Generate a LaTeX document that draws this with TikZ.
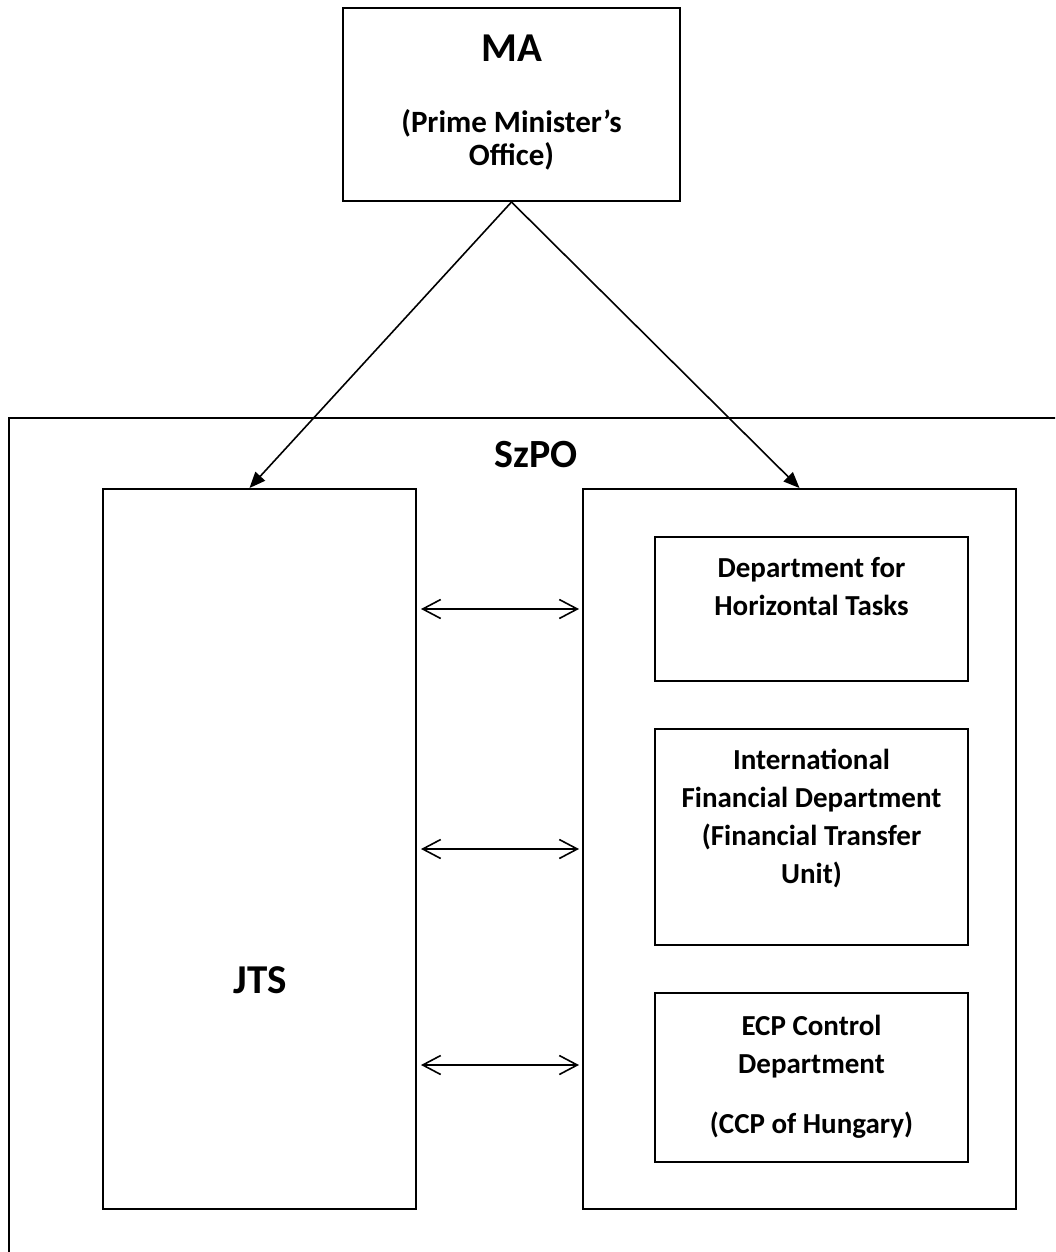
\documentclass[tikz,border=0pt]{standalone}
\usepackage{fontspec}
\setmainfont{Carlito}
\usetikzlibrary{arrows.meta}
\tikzstyle{orgbox} = [draw=black, line width=1pt, rectangle, inner sep=0pt]
\tikzstyle{bigtitle} = [font=\bfseries\fontsize{20.5}{24}\selectfont]
\tikzstyle{unittext} = [align=center, font=\bfseries\fontsize{14.5}{19}\selectfont]
\tikzstyle{report} = [line width=0.8pt, -{Triangle[length=8pt,width=6.5pt]}]
\tikzstyle{liaison} = [line width=0.8pt,
    {Straight Barb[length=9pt,width=9.5pt]}-{Straight Barb[length=9pt,width=9.5pt]},
    shorten <=2pt, shorten >=1.5pt]

\begin{document}
\begin{tikzpicture}[x=0.5pt, y=-0.5pt]
\useasboundingbox (0,0) rectangle (1055,1252);
\clip (0,0) rectangle (1055,1252);

% managing authority
\node [orgbox, minimum width=168.5pt, minimum height=96.5pt] (ma) at (511.5,104.5) {};
\node [bigtitle] (matitle) at (511.5,48) {MA};
\node [align=center, font=\bfseries\fontsize{15.5}{16.5}\selectfont] (masub) at (511.5,140)
    {(Prime Minister’s\\Office)};

% SzPO frame, runs off the page
\node [orgbox, anchor=north west, minimum width=550pt, minimum height=450pt] (szpo) at (8,417) {};
\node [font=\bfseries\fontsize{20}{24}\selectfont] (szpotitle) at (536,455) {SzPO};

\node [orgbox, minimum width=156.5pt, minimum height=360pt] (jts) at (259.5,849) {};
\node [bigtitle] (jtstitle) at (260,980) {JTS};

\node [orgbox, minimum width=216.5pt, minimum height=360pt] (unit) at (799.5,849) {};
\node [orgbox, minimum width=156.5pt, minimum height=72pt] (horiz) at (811.5,609) {};
\node [orgbox, minimum width=156.5pt, minimum height=108pt] (intl) at (811.5,837) {};
\node [orgbox, minimum width=156.5pt, minimum height=84.5pt] (ecp) at (811.5,1077.5) {};

\node [unittext] (horiztext) at (811.5,587) {Department for\\Horizontal Tasks};
\node [unittext] (intltext) at (811.5,818)
    {International\\Financial Department\\(Financial Transfer\\Unit)};
\node [unittext] (ecptext) at (811.5,1077) {ECP Control\\Department\\[11pt](CCP of Hungary)};

% links
\draw [report] (ma.south) -- ([xshift=-5pt]jts.north);
\draw [report] (ma.south) -- (unit.north);
\foreach \y in {609,849,1065}
    \draw [liaison] (jts.east |- 0,\y) -- (unit.west |- 0,\y);
\end{tikzpicture}
\end{document}
